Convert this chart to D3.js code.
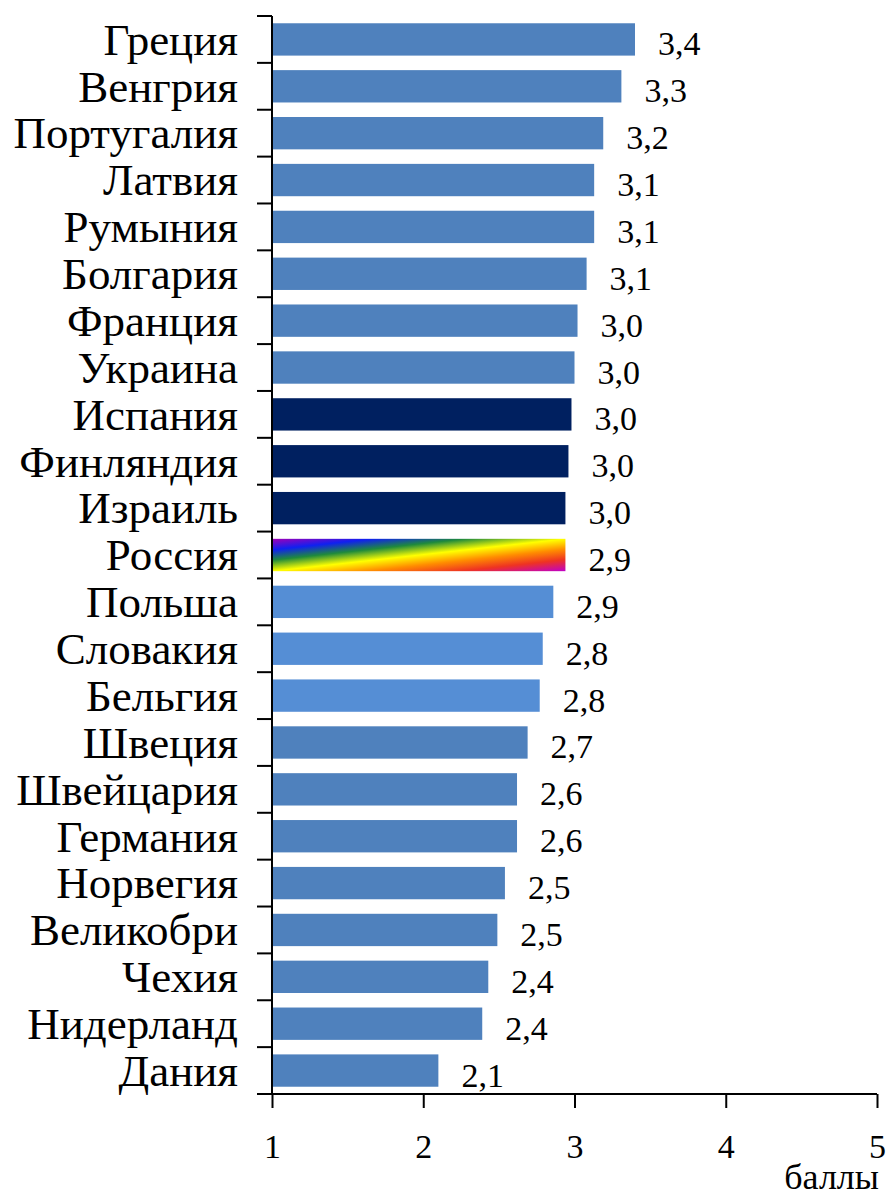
<!DOCTYPE html>
<html>
<head>
<meta charset="utf-8">
<script src="https://cdn.jsdelivr.net/npm/d3@7"></script>
<style>
  html, body { margin: 0; padding: 0; background: #fff; }
  svg { display: block; }
  svg text { font-family: "Liberation Serif", "Times New Roman", "DejaVu Serif", serif; }
</style>
</head>
<body>
<div id="chart"></div>
<script>
"use strict";

// countries, top to bottom
let countries = ["Греция", "Венгрия", "Португалия", "Латвия", "Румыния", "Болгария",
  "Франция", "Украина", "Испания", "Финляндия", "Израиль", "Россия", "Польша",
  "Словакия", "Бельгия", "Швеция", "Швейцария", "Германия", "Норвегия",
  "Великобри", "Чехия", "Нидерланд", "Дания"];

// score (bar length)
let scores = [3.40, 3.31, 3.19, 3.13, 3.13, 3.08, 3.02, 3.00, 2.98, 2.96, 2.94, 2.94,
  2.86, 2.79, 2.77, 2.69, 2.62, 2.62, 2.54, 2.49, 2.43, 2.39, 2.10];

// printed labels next to bars
let valueLabels = ["3,4", "3,3", "3,2", "3,1", "3,1", "3,1", "3,0", "3,0", "3,0", "3,0",
  "3,0", "2,9", "2,9", "2,8", "2,8", "2,7", "2,6", "2,6", "2,5", "2,5", "2,4", "2,4", "2,1"];

// which colour group each bar belongs to
let groups = ["base", "base", "base", "base", "base", "base", "base", "base",
  "dark", "dark", "dark", "russia", "light", "light", "light",
  "base", "base", "base", "base", "base", "base", "base", "base"];

let xTicks = [1, 2, 3, 4, 5];
let xTitle = "баллы";

var width = 886,
    height = 1198;

var svg = d3.select("#chart").append("svg")
  .attr("width", width)
  .attr("height", height);

// rainbow fill for Russia
var grad = svg.append("defs").append("linearGradient")
  .attr("id", "rainbow")
  .attr("x1", 0).attr("y1", 0)
  .attr("x2", 1).attr("y2", 1);

var stops = [
  [0, "#a000b8"], [0.17, "#1020f0"], [0.33, "#1f8a3c"], [0.5, "#ffff00"],
  [0.66, "#ff8c00"], [0.82, "#ee3322"], [1, "#c000c8"]
];
stops.forEach(function(s) {
  grad.append("stop").attr("offset", s[0]).attr("stop-color", s[1]);
});

var colors = d3.scaleOrdinal()
  .domain(["base", "light", "dark", "russia"])
  .range(["#4f81bd", "#558ed5", "#002060", "url(#rainbow)"]);

var x = d3.scaleLinear().domain([1, 5]).range([272, 877]);

var y = d3.scaleBand()
  .domain(countries)
  .range([16, 1094])
  .paddingInner(0.31)
  .paddingOuter(0.155);

// bars
svg.selectAll("rect.bar").data(countries)
  .enter().append("rect")
    .attr("class", "bar")
    .attr("x", x(1) + 1)
    .attr("y", function(d) { return y(d); })
    .attr("width", function(d, i) { return x(scores[i]) - x(1) - 1; })
    .attr("height", y.bandwidth())
    .style("fill", function(d, i) { return colors(groups[i]); });

// value labels
svg.selectAll("text.val").data(countries)
  .enter().append("text")
    .attr("class", "val")
    .attr("x", function(d, i) { return x(scores[i]) + 23; })
    .attr("y", function(d) { return y(d) + y.bandwidth() / 2 + 16; })
    .style("font-size", "34px")
    .style("fill", "#000")
    .text(function(d, i) { return valueLabels[i]; });

// y axis: labels at band centres, ticks at band boundaries
var yAxis = svg.append("g")
  .attr("transform", "translate(" + x(1) + ",0)")
  .call(d3.axisLeft(y).tickSize(0).tickPadding(34));

yAxis.attr("font-family", null);
yAxis.select(".domain").remove();
yAxis.selectAll("text")
  .style("font-size", "45px")
  .attr("fill", "#000")
  .attr("dy", "0.34em");

var step = y.step();
var boundaries = d3.range(countries.length + 1).map(function(i) {
  return y.range()[0] + i * step;
});

svg.append("line")
  .attr("x1", x(1)).attr("x2", x(1))
  .attr("y1", boundaries[0]).attr("y2", boundaries[boundaries.length - 1])
  .attr("stroke", "#000").attr("stroke-width", 2);

svg.selectAll("line.ytick").data(boundaries)
  .enter().append("line")
    .attr("class", "ytick")
    .attr("x1", x(1) - 15).attr("x2", x(1))
    .attr("y1", function(d) { return d; })
    .attr("y2", function(d) { return d; })
    .attr("stroke", "#000").attr("stroke-width", 2);

// x axis
var axisY = boundaries[boundaries.length - 1];

var xAxis = svg.append("g")
  .attr("transform", "translate(0," + axisY + ")")
  .call(d3.axisBottom(x).tickValues(xTicks).tickSize(14).tickPadding(26)
    .tickFormat(d3.format("d")));

xAxis.attr("font-family", null);
xAxis.select(".domain").remove();
xAxis.selectAll("line").attr("stroke", "#000").attr("stroke-width", 2);
xAxis.selectAll("text")
  .style("font-size", "34px")
  .attr("fill", "#000");

svg.append("line")
  .attr("x1", x(1) - 15).attr("x2", x(5))
  .attr("y1", axisY).attr("y2", axisY)
  .attr("stroke", "#000").attr("stroke-width", 2);

svg.append("text")
  .attr("x", 879)
  .attr("y", 1189)
  .attr("text-anchor", "end")
  .style("font-size", "36px")
  .style("fill", "#000")
  .text(xTitle);
</script>
</body>
</html>
